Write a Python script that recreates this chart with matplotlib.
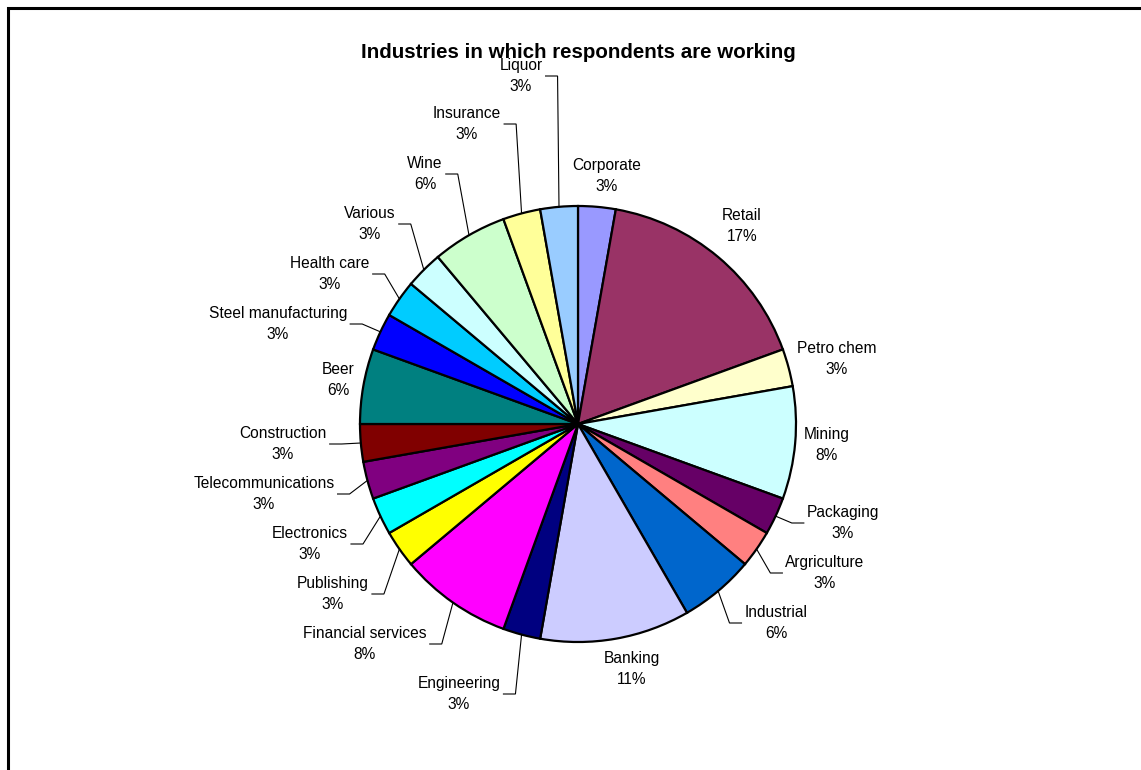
import matplotlib
matplotlib.use("Agg")
import matplotlib.pyplot as plt
from matplotlib.lines import Line2D
import numpy as np

plt.rcParams["font.family"] = ["Liberation Sans", "DejaVu Sans"]

W, H = 1141, 770

# Respondents per industry (36 in total), clockwise from 12 o'clock
industries = ["Corporate", "Retail", "Petro chem", "Mining", "Packaging",
              "Argriculture", "Industrial", "Banking", "Engineering",
              "Financial services", "Publishing", "Electronics",
              "Telecommunications", "Construction", "Beer",
              "Steel manufacturing", "Health care", "Various", "Wine",
              "Insurance", "Liquor"]
respondents = [1, 6, 1, 3, 1, 1, 2, 4, 1, 3, 1, 1, 1, 1, 2, 1, 1, 1, 2, 1, 1]

# classic office palette
colors = ["#9999FF", "#993366", "#FFFFCC", "#CCFFFF", "#660066", "#FF8080",
          "#0066CC", "#CCCCFF", "#000080", "#FF00FF", "#FFFF00", "#00FFFF",
          "#800080", "#800000", "#008080", "#0000FF", "#00CCFF", "#CCFFFF",
          "#CCFFCC", "#FFFF99", "#99CCFF"]

# label block centres in pixels (origin top-left), plus which ones get a leader
label_pos = {
    "Corporate": (607, 176), "Retail": (742, 226), "Petro chem": (837, 359),
    "Mining": (827, 445), "Packaging": (843, 523), "Argriculture": (825, 573),
    "Industrial": (776, 623), "Banking": (632, 669), "Engineering": (459, 694),
    "Financial services": (365, 644), "Publishing": (333, 594),
    "Electronics": (310, 544), "Telecommunications": (264, 494),
    "Construction": (283, 444), "Beer": (338, 380),
    "Steel manufacturing": (278, 324), "Health care": (330, 274),
    "Various": (370, 224), "Wine": (425, 174), "Insurance": (467, 124),
    "Liquor": (521, 76),
}
with_leader = {"Packaging", "Argriculture", "Industrial", "Engineering",
               "Financial services", "Publishing", "Electronics",
               "Telecommunications", "Construction", "Steel manufacturing",
               "Health care", "Various", "Wine", "Insurance", "Liquor"}

CX, CY, R = 578, H - 424, 218

fig = plt.figure(figsize=(W / 100, H / 100), dpi=100)
fig.patch.set_facecolor("white")
ax = fig.add_axes([0, 0, 1, 1])

wedges, _ = ax.pie(respondents, colors=colors, startangle=90,
                   counterclock=False, center=(CX, CY), radius=R,
                   wedgeprops=dict(edgecolor="black", linewidth=1.6))
ax.set_xlim(0, W)
ax.set_ylim(0, H)
ax.set_aspect("equal")
ax.axis("off")

total = sum(respondents)
texts = []
for name, n in zip(industries, respondents):
    x, y = label_pos[name]
    pct = round(100 * n / total)
    t = ax.text(x, H - y, f"{name}\n{pct}%", ha="center", va="center",
                multialignment="center", fontsize=11.2, linespacing=1.45)
    texts.append(t)

fig.canvas.draw()
renderer = fig.canvas.get_renderer()

# leader lines: short horizontal stub off the label, then to the wedge rim
for name, t, w in zip(industries, texts, wedges):
    if name not in with_leader:
        continue
    mid = np.deg2rad((w.theta1 + w.theta2) / 2)
    ex, ey = CX + R * np.cos(mid), CY + R * np.sin(mid)
    bb = t.get_window_extent(renderer)
    ymid = (bb.y0 + bb.y1) / 2
    if ex < CX:
        sx = bb.x1 + 3
        kx = sx + 12
    else:
        sx = bb.x0 - 3
        kx = sx - 12
    ax.plot([sx, kx, ex], [ymid, ymid, ey], color="black", lw=0.8,
            solid_joinstyle="miter")

ax.text(CX, H - 58, "Industries in which respondents are working",
        ha="center", va="baseline", fontsize=14.8, fontweight="bold")

# chart-area frame (runs off the right and bottom edges)
fig.add_artist(Line2D([8 / W, 8 / W, 1.01], [-0.01, 1 - 8 / H, 1 - 8 / H],
                      transform=fig.transFigure, color="black", lw=2.2,
                      solid_joinstyle="miter"))

fig.savefig("out.png", dpi=100)
